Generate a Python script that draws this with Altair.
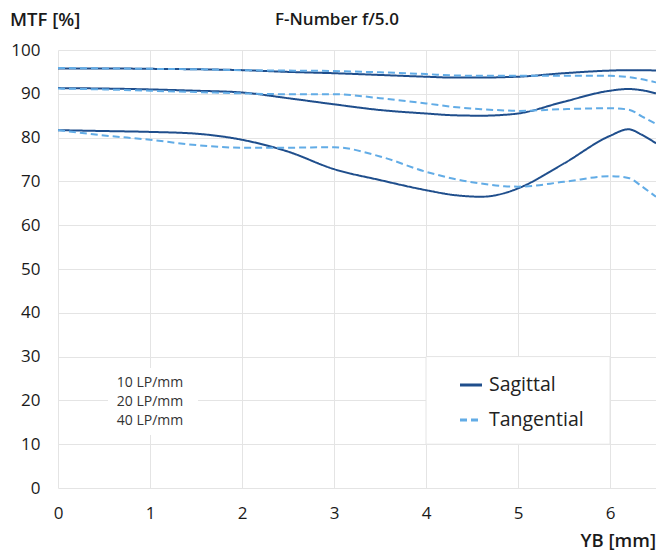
import altair as alt
import pandas as pd

# ---- data ----
yb = [0, 0.5, 1, 1.5, 2, 2.5, 3, 3.5, 4, 4.3, 4.6, 4.85, 5, 5.5, 6, 6.2, 6.35, 6.5]

sag_10 = [95.8, 95.8, 95.7, 95.6, 95.4, 95.0, 94.7, 94.3, 93.9, 93.7, 93.7, 93.8, 93.9, 94.7, 95.3, 95.4, 95.4, 95.3]
tan_10 = [95.9, 95.8, 95.7, 95.6, 95.4, 95.3, 95.2, 94.9, 94.5, 94.2, 94.1, 94.1, 94.1, 94.1, 94.1, 93.8, 93.3, 92.6]
sag_20 = [91.3, 91.2, 91.0, 90.7, 90.3, 89.0, 87.6, 86.3, 85.5, 85.1, 85.0, 85.2, 85.5, 88.2, 90.7, 91.1, 90.8, 90.1]
tan_20 = [91.2, 91.0, 90.7, 90.4, 90.1, 89.9, 89.9, 89.0, 87.8, 87.0, 86.5, 86.2, 86.1, 86.5, 86.7, 86.4, 84.8, 83.1]
sag_40 = [81.7, 81.5, 81.3, 80.9, 79.5, 76.8, 72.8, 70.3, 68.0, 66.9, 66.5, 67.3, 68.4, 74.1, 80.4, 81.9, 80.6, 78.7]
tan_40 = [81.7, 80.5, 79.5, 78.3, 77.7, 77.7, 77.8, 75.7, 72.2, 70.6, 69.5, 68.9, 68.8, 69.9, 71.2, 70.8, 68.8, 66.5]

types = ["Sagittal", "Tangential"]
type_colors = ["#1f4e8c", "#62ace6"]
freq_labels = ["10 LP/mm", "20 LP/mm", "40 LP/mm"]
x_ticks = [0, 1, 2, 3, 4, 5, 6]
y_ticks = [0, 10, 20, 30, 40, 50, 60, 70, 80, 90, 100]

title_text = "F-Number f/5.0"
y_title = "MTF [%]"
x_title = "YB [mm]"

FONT = "Open Sans"
W, H = 598, 438

rows = []
for typ, freq, vals in [
    ("Sagittal", "10", sag_10), ("Tangential", "10", tan_10),
    ("Sagittal", "20", sag_20), ("Tangential", "20", tan_20),
    ("Sagittal", "40", sag_40), ("Tangential", "40", tan_40),
]:
    for x, v in zip(yb, vals):
        rows.append({"yb": x, "mtf": v, "type": typ, "freq": freq})
df = pd.DataFrame(rows)

xs = alt.Scale(domain=[0, 6.5], nice=False, zero=False)
ys = alt.Scale(domain=[0, 100], nice=False)

lines = alt.Chart(df).mark_line(strokeWidth=2, interpolate="monotone").encode(
    x=alt.X("yb:Q", scale=xs, axis=alt.Axis(values=x_ticks, title=None, grid=True, domain=False,
                                             ticks=False, labelPadding=17, labelFontSize=17,
                                             labelFlush=False, labelFont=FONT, labelColor="#1a1a1a",
                                             format="d")),
    y=alt.Y("mtf:Q", scale=ys, axis=alt.Axis(values=y_ticks, title=None, grid=True, domain=False,
                                              ticks=False, labelPadding=18, labelFontSize=17,
                                              labelFlush=False, labelFont=FONT, labelColor="#1a1a1a",
                                              format="d")),
    color=alt.Color("type:N", scale=alt.Scale(domain=types, range=type_colors), legend=None),
    strokeDash=alt.StrokeDash("type:N", scale=alt.Scale(domain=types, range=[[1, 0], [7, 4]]), legend=None),
    detail="freq:N",
)

# white box behind frequency labels
ann_box = alt.Chart(pd.DataFrame({"a": [0]})).mark_rect(fill="white").encode(
    x=alt.value(50), x2=alt.value(140), y=alt.value(318), y2=alt.value(385)
)
ann_df = pd.DataFrame({"label": freq_labels, "ypx": [333, 352, 371]})
ann_text = alt.Chart(ann_df).mark_text(font=FONT, fontSize=14, color="#333333", align="center",
                                       baseline="middle").encode(
    x=alt.value(92), y=alt.Y("ypx:Q", scale=None), text="label:N"
)

# legend box
leg_box = alt.Chart(pd.DataFrame({"a": [0]})).mark_rect(fill="white", stroke="#e4e4e4", strokeWidth=1).encode(
    x=alt.value(W * 4 / 6.5), x2=alt.value(W * 6 / 6.5), y=alt.value(H * 0.7), y2=alt.value(H * 0.9)
)
leg_df = pd.DataFrame({"type": types, "ypx": [335, 370]})
leg_lines = alt.Chart(leg_df).mark_rule(strokeWidth=3).encode(
    x=alt.value(402), x2=alt.value(424), y=alt.Y("ypx:Q", scale=None),
    color=alt.Color("type:N", scale=alt.Scale(domain=types, range=type_colors), legend=None),
    strokeDash=alt.StrokeDash("type:N", scale=alt.Scale(domain=types, range=[[1, 0], [8, 4]]), legend=None),
)
leg_text = alt.Chart(leg_df).mark_text(font=FONT, fontSize=19.5, color="#222222", align="left",
                                       baseline="middle").encode(
    x=alt.value(431), y=alt.Y("ypx:Q", scale=None), text="type:N"
)

t_mtf = alt.Chart(pd.DataFrame({"t": [y_title]})).mark_text(
    font=FONT, fontSize=18.5, fontWeight=600, color="#1a1a1a", align="left", baseline="middle"
).encode(x=alt.value(-48), y=alt.value(-30), text="t:N")
t_main = alt.Chart(pd.DataFrame({"t": [title_text]})).mark_text(
    font=FONT, fontSize=17, fontWeight=600, color="#1a1a1a", align="left", baseline="middle"
).encode(x=alt.value(217), y=alt.value(-30), text="t:N")
t_x = alt.Chart(pd.DataFrame({"t": [x_title]})).mark_text(
    font=FONT, fontSize=18.5, fontWeight=600, color="#1a1a1a", align="right", baseline="middle"
).encode(x=alt.value(W), y=alt.value(491), text="t:N")

chart = alt.layer(lines, ann_box, ann_text, leg_box, leg_lines, leg_text, t_mtf, t_main, t_x).properties(
    width=W, height=H,
    autosize=alt.AutoSizeParams(type="none"),
    padding={"left": 50, "top": 42, "right": 0, "bottom": 65},
).configure_view(stroke=None).configure_axis(gridColor="#e4e4e4", gridWidth=1)

chart.save("out.html", embed_options={"renderer": "svg", "actions": False})
